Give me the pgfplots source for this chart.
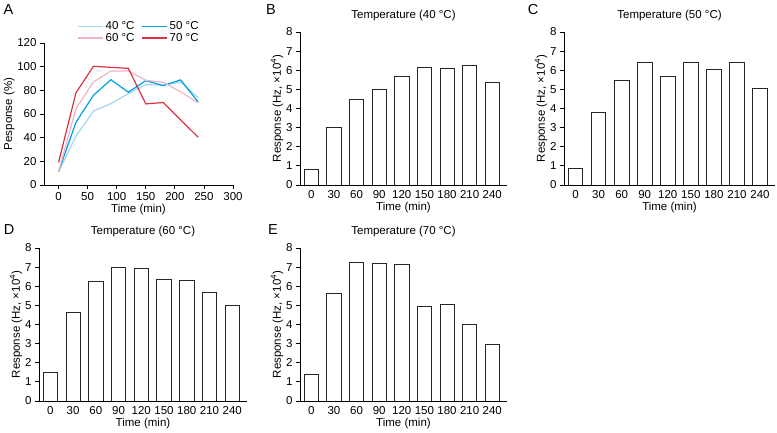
\documentclass[border=0pt]{standalone}
\usepackage{fontspec}
\setmainfont{Liberation Sans}
\usepackage{pgfplots}
\pgfplotsset{compat=1.18}
\definecolor{cA}{RGB}{160,215,240}
\definecolor{cB}{RGB}{0,160,225}
\definecolor{cC}{RGB}{240,180,200}
\definecolor{cD}{RGB}{220,50,70}
\pgfplotsset{
  myaxis/.style={
    scale only axis, axis lines=left, axis line style={-, line width=0.8pt},
    tick align=outside, major tick length=4pt, tick style={black, line width=0.8pt},
    font=\fontsize{11.5}{13}\selectfont,
    /pgf/number format/assume math mode=true,
    xlabel style={yshift=3pt},
    ylabel style={yshift=-4pt},
  },
  barax/.style={myaxis, ybar, bar width=0.63, xmin=-0.5, xmax=8.65, ymin=0, ymax=8,
    ytick={0,...,8}, xtick={0,...,8}, xticklabels={0,30,60,90,120,150,180,210,240},
    x tick style={draw=none}, xticklabel style={yshift=2pt},
    xlabel={Time (min)}, ylabel={Response (Hz, ×10\textsuperscript{4})},
    width=207pt, height=153pt,
    title style={at={(0.5,1)}, anchor=south, yshift=2pt},
  },
  barplot/.style={fill=white, draw=black!85, line width=0.8pt},
}
\begin{document}
\begin{tikzpicture}[x=1pt,y=1pt]
\useasboundingbox (0,0) rectangle (777,433);
% Panel A
\begin{axis}[myaxis, at={(44pt,248pt)}, anchor=south west, width=189pt, height=142pt,
  xmin=-25, xmax=300, ymin=0, ymax=120, xtick={0,50,...,300}, ytick={0,20,...,120},
  xlabel={Time (min)}, ylabel={Pesponse (\%)},
  legend columns=2,
  legend style={at={(0.16,1.18)}, anchor=north west, draw=none, fill=none,
    font=\fontsize{11.5}{12}\selectfont, row sep=-2pt,
    /tikz/every even column/.append style={column sep=5pt}},
  legend image code/.code={\draw[#1, line width=1.2pt] (0pt,0pt) -- (25pt,0pt);},
  ]
\addplot[cA, line width=1.2pt] coordinates {(0,11) (30,41.3) (60,62.4) (90,68.8) (120,77.2) (150,84.8) (180,84.3) (210,87) (240,73.9)};
\addplot[cB, line width=1.2pt] coordinates {(0,11.2) (30,53) (60,75.8) (90,89) (120,78.4) (150,88.2) (180,84) (210,88.8) (240,70.2)};
\addplot[cC, line width=1.2pt] coordinates {(0,11) (30,64.6) (60,87) (90,96.3) (120,96.3) (150,88.5) (180,86.8) (210,78.7) (240,69.4)};
\addplot[cD, line width=1.2pt] coordinates {(0,19.1) (30,78) (60,100.3) (90,99.4) (120,98.6) (150,68.5) (180,69.7) (210,55) (240,40.4)};
\legend{40 °C, 50 °C, 60 °C, 70 °C}
\end{axis}
% Panel B
\begin{axis}[barax, at={(300pt,248pt)}, anchor=south west, title={Temperature (40 °C)}]
\addplot[barplot] coordinates {(0,0.79) (1,2.99) (2,4.49) (3,5.0) (4,5.68) (5,6.13) (6,6.1) (7,6.27) (8,5.34)};
\end{axis}
% Panel C
\begin{axis}[barax, at={(564pt,248pt)}, anchor=south west, width=211pt, title={Temperature (50 °C)}]
\addplot[barplot] coordinates {(0,0.87) (1,3.81) (2,5.48) (3,6.43) (4,5.68) (5,6.39) (6,6.06) (7,6.43) (8,5.07)};
\end{axis}
% Panel D
\begin{axis}[barax, at={(39pt,32pt)}, anchor=south west, width=208pt, title={Temperature (60 °C)}]
\addplot[barplot] coordinates {(0,1.47) (1,4.65) (2,6.25) (3,6.99) (4,6.95) (5,6.36) (6,6.29) (7,5.69) (8,5.0)};
\end{axis}
% Panel E
\begin{axis}[barax, at={(300pt,32pt)}, anchor=south west, title={Temperature (70 °C)}]
\addplot[barplot] coordinates {(0,1.4) (1,5.61) (2,7.25) (3,7.2) (4,7.14) (5,4.94) (6,5.03) (7,4.0) (8,2.95)};
\end{axis}
\node[font=\fontsize{14.5}{16}\selectfont] at (8.5,423) {A};
\node[font=\fontsize{14.5}{16}\selectfont] at (271,423) {B};
\node[font=\fontsize{14.5}{16}\selectfont] at (533,423) {C};
\node[font=\fontsize{14.5}{16}\selectfont] at (9,203) {D};
\node[font=\fontsize{14.5}{16}\selectfont] at (273,203) {E};
\end{tikzpicture}
\end{document}
